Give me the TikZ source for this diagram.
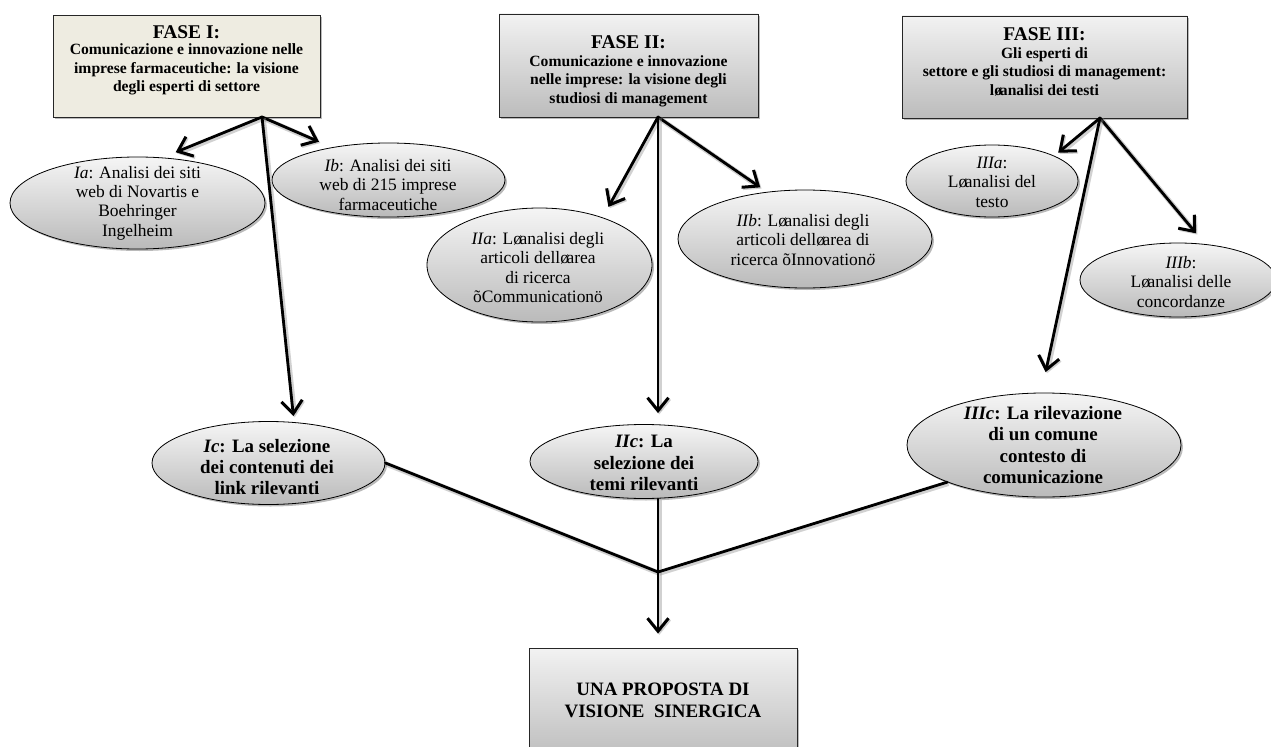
\documentclass[tikz,border=0pt]{standalone}
\usepackage{fontspec}
\setmainfont{Liberation Serif}
\usetikzlibrary{shapes.geometric,arrows.meta,shadows}

\definecolor{tanfill}{RGB}{238,236,225}
\definecolor{gtop}{RGB}{242,242,242}
\definecolor{gbot}{RGB}{188,188,188}
\definecolor{etop}{RGB}{245,245,245}
\definecolor{ebot}{RGB}{186,186,186}

\tikzset{
  softshadow/.style={drop shadow={shadow xshift=2bp,shadow yshift=-2bp,fill=black!60,opacity=.45}},
  fasebox/.style={rectangle, draw=black!85, line width=.8bp, inner sep=0pt, softshadow},
  graybox/.style={fasebox, top color=gtop, bottom color=gbot},
  tanbox/.style={fasebox, fill=tanfill},
  oval/.style={ellipse, draw=black, line width=.8bp, inner sep=0pt, top color=etop, bottom color=ebot, softshadow},
  boxtext/.style={align=center, inner sep=0pt, font=\bfseries\fontsize{15.7}{18.5}\selectfont},
  ovaltext/.style={align=center, inner sep=0pt, font=\fontsize{17.5}{19.5}\selectfont},
  keytext/.style={align=center, inner sep=0pt, font=\bfseries\fontsize{19}{21.5}\selectfont},
  wire/.style={line width=2.8bp, line cap=round, line join=round,
    preaction={draw=black!45, opacity=.4, line width=5bp,
      transform canvas={shift={(1.3bp,-1.3bp)}}}},
  arrowwire/.style={wire, -{Straight Barb[length=13bp,width=21bp,line width=3bp]}},
}
\newcommand{\ttl}[1]{{\fontsize{19.5}{22}\selectfont #1}}
\newcommand{\apo}{ø\kern-.14em }

\begin{document}
\begin{tikzpicture}[x=1bp,y=-1bp]
\useasboundingbox (0,0) rectangle (1271,747);

% phase boxes
\node[tanbox,  minimum width=267bp, minimum height=102bp] (f1) at (186.5,66) {};
\node[graybox, minimum width=259bp, minimum height=103bp] (f2) at (628.5,65.5) {};
\node[graybox, minimum width=285bp, minimum height=102bp] (f3) at (1044.5,67) {};
\node[graybox, minimum width=268bp, minimum height=112bp] (fin) at (663,704) {};

\node[boxtext, anchor=north] (f1t) at (186.5,25)
  {\ttl{FASE I:}\\[-1.5bp] Comunicazione e innovazione nelle\\ imprese farmaceutiche: la visione\\ degli esperti di settore};
\node[boxtext, anchor=north] (f2t) at (628.5,35)
  {\ttl{FASE II:}\\ Comunicazione e innovazione\\ nelle imprese: la visione degli\\ studiosi di management};
\node[boxtext, anchor=north] (f3t) at (1044.5,27)
  {\ttl{FASE III:}\\ Gli esperti di\\ settore e gli studiosi di management:\\ l\apo analisi dei testi};
\node[keytext, anchor=north] (fint) at (663,683)
  {UNA PROPOSTA DI\\ VISIONE\ \ SINERGICA};

% activity ellipses
\node[oval, minimum width=255bp, minimum height=92bp] (ia)   at (137.5,203) {};
\node[oval, minimum width=233bp, minimum height=74bp] (ib)   at (388.5,180) {};
\node[oval, minimum width=225bp, minimum height=114bp] (iia) at (539.5,265) {};
\node[oval, minimum width=254bp, minimum height=98bp] (iib)  at (805,239) {};
\node[oval, minimum width=172bp, minimum height=72bp] (iiia) at (992,181) {};
\node[oval, minimum width=196bp, minimum height=74bp] (iiib) at (1178,280) {};
\node[oval, minimum width=233bp, minimum height=83bp] (ic)   at (268.5,463) {};
\node[oval, minimum width=228bp, minimum height=74bp] (iic)  at (644,461.5) {};
\node[oval, minimum width=274bp, minimum height=104bp] (iiic) at (1044,445) {};

\node[ovaltext] (iat) at (137.5,203)
  {\textit{Ia}: Analisi dei siti\\ web di Novartis e\\ Boehringer\\ Ingelheim};
\node[ovaltext] (ibt) at (388,185)
  {\textit{Ib}: Analisi dei siti\\ web di 215 imprese\\ farmaceutiche};
\node[ovaltext] (iiat) at (538,267.5)
  {\textit{IIa}: L\apo analisi degli\\ articoli dell\apo area\\ di ricerca\\ õCommunicationö};
\node[ovaltext] (iibt) at (803,240)
  {\textit{IIb}: L\apo analisi degli\\ articoli dell\apo area di\\ ricerca õInnovation\textit{ö}};
\node[ovaltext] (iiiat) at (992,182)
  {\textit{IIIa}:\\ L\apo analisi del\\ testo};
\node[ovaltext] (iiibt) at (1181,282)
  {\textit{IIIb}:\\ L\apo analisi delle\\ concordanze};
\node[keytext] (ict) at (267,467)
  {\textit{Ic}: La selezione\\ dei contenuti dei\\ link rilevanti};
\node[keytext] (iict) at (644,463)
  {\textit{IIc}: La\\ selezione dei\\ temi rilevanti};
\node[keytext] (iiict) at (1043,445)
  {\textit{IIIc}: La rilevazione\\ di un comune\\ contesto di\\ comunicazione};

% branching points
\coordinate (f1o) at (262,117);
\coordinate (f2o) at (658,117);
\coordinate (f3o) at (1100,118);
\coordinate (j)   at (658,572);

% connectors
\draw[arrowwire, shorten >=14bp] (f1o) -- (ia.61);
\draw[arrowwire, shorten >=14bp] (f1o) -- (ib.150.6);
\draw[arrowwire, shorten >=6bp]  (f1o) -- (ic.58.5);
\draw[arrowwire, shorten >=12bp] (f2o) -- (iia.37.8);
\draw[arrowwire, shorten >=8bp]  (f2o) -- (iib.129);
\draw[arrowwire, shorten >=11bp] (f2o) -- (f2o |- iic.north);
\draw[arrowwire, shorten >=5bp]  (f3o) -- (iiia.22.6);
\draw[arrowwire, shorten >=14bp] (f3o) -- (iiib.53.4);
\draw[arrowwire, shorten >=21bp] (f3o) -- (iiic.93.5);
\draw[wire] (ic.east) -- (j);
\draw[wire] (j |- iic.south) -- (j);
\draw[wire] (iiic.201.3) -- (j);
\draw[arrowwire, shorten >=14bp] (j) -- (j |- fin.north);
\end{tikzpicture}
\end{document}
